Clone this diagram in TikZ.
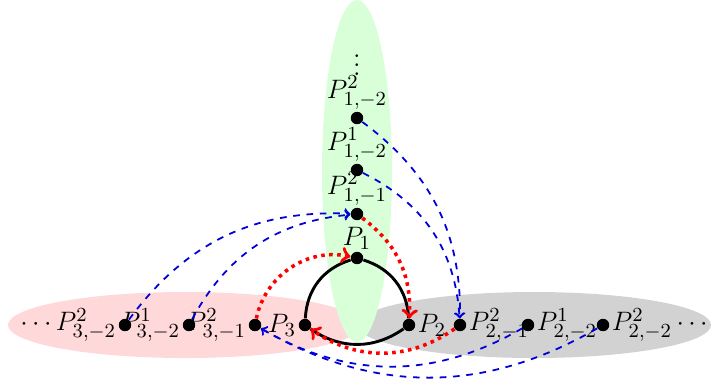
\documentclass[tikz,border=0pt]{standalone}
\begin{document}
\begin{tikzpicture}[x=0.45pt,y=-0.45pt,
  dot/.style={circle,fill=black,inner sep=0pt,minimum size=5.6pt},
  lbl/.style={inner sep=0.8pt,font=\fontsize{12.5}{15}\selectfont},
  tri/.style={line width=1.3pt},
  redarr/.style={red,dotted,line width=1.6pt,->},
  bluearr/.style={blue!85!black,dashed,line width=0.8pt,->}]
\useasboundingbox (0,0) rectangle (711,388);
% regions
\fill[red!15] (185,325) ellipse [x radius=177,y radius=33];
\fill[gray!35] (534,325) ellipse [x radius=177,y radius=33];
\fill[green!15] (357,171) ellipse [x radius=35,y radius=171];
% vertical branch
\node[dot,label={[lbl]above:$P_1$}] (p1) at (357,258) {};
\node[dot,label={[lbl]above:$P^2_{1,-1}$}] (a1) at (357,214) {};
\node[dot,label={[lbl]above:$P^1_{1,-2}$}] (a2) at (357,170) {};
\node[dot,label={[lbl,name=la3]above:$P^2_{1,-2}$}] (a3) at (357,118) {};
\node[lbl,anchor=south,inner sep=0pt,yshift=-1pt] (vd) at (la3.north) {$\vdots$};
% left branch
\node[dot,label={[lbl]left:$P_3$}] (p3) at (305,325) {};
\node[dot,label={[lbl]left:$P^2_{3,-1}$}] (c1) at (255,325) {};
\node[dot,label={[lbl]left:$P^1_{3,-2}$}] (c2) at (189,325) {};
\node[dot,label={[lbl]left:$\cdots P^2_{3,-2}$}] (c3) at (125,325) {};
% right branch
\node[dot,label={[lbl]right:$P_2$}] (p2) at (409,325) {};
\node[dot,label={[lbl]right:$P^2_{2,-1}$}] (b1) at (460,325) {};
\node[dot,label={[lbl]right:$P^1_{2,-2}$}] (b2) at (528,325) {};
\node[dot,label={[lbl]right:$P^2_{2,-2}\cdots$}] (b3) at (603,325) {};
% triangle
\draw[tri] (p3) to[bend left=35] (p1);
\draw[tri] (p1) to[bend left=35] (p2);
\draw[tri] (p2) to[bend left=35] (p3);
% red dotted
\draw[redarr] (c1) to[bend left=45] (p1);
\draw[redarr] (a1) to[bend left=28] (p2);
\draw[redarr] (b1) to[bend left=35] (p3);
% blue dashed
\draw[bluearr] (c3) to[bend left=28] (a1);
\draw[bluearr] (c2) to[bend left=28] (a1);
\draw[bluearr] (a3) to[bend left=27] (b1);
\draw[bluearr] (a2) to[bend left=30] (b1);
\draw[bluearr] (b2) to[bend left=30] (c1);
\draw[bluearr] (b3) to[bend left=30] (c1);
\end{tikzpicture}
\end{document}
